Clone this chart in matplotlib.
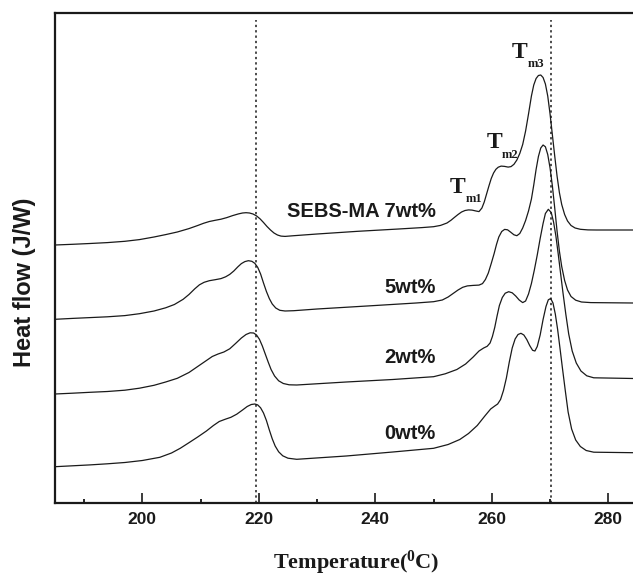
import matplotlib
matplotlib.use("Agg")
import matplotlib.pyplot as plt
from matplotlib.ticker import MultipleLocator

# ---------------- data (temperature in deg C; heat-flow read as pixel rows, converted below) ----------------
temp_7 = [185.0, 188.0, 191.0, 194.0, 197.0, 199.5, 202.0, 204.0, 206.0, 208.0, 209.5, 210.5,
          211.5, 212.5, 213.5, 214.5, 215.5, 216.5, 217.2, 217.8, 218.4, 219.0, 219.6, 220.2,
          220.8, 221.4, 222.0, 222.6, 223.2, 223.8, 224.5, 226.0, 230.0, 237.0, 244.0, 248.0,
          250.0, 251.2, 252.3, 253.0, 253.6, 254.2, 254.8, 255.4, 256.0, 256.6, 257.2, 257.8,
          258.3, 258.7, 259.1, 259.5, 259.9, 260.3, 260.7, 261.1, 261.6, 262.2, 262.8, 263.3,
          263.8, 264.3, 264.8, 265.3, 265.8, 266.3, 266.8, 267.2, 267.6, 268.0, 268.4, 268.8,
          269.2, 269.6, 270.0, 270.4, 270.8, 271.2, 271.6, 272.0, 272.5, 273.0, 273.6, 274.3,
          275.2, 276.5, 278.0, 284.3]
ypx_7 = [245.0, 244.3, 243.5, 242.6, 241.3, 239.6, 237.0, 234.6, 232.0, 228.6, 225.5, 223.3,
         221.5, 220.3, 219.2, 217.6, 215.6, 213.9, 213.0, 212.7, 213.0, 214.0, 215.9, 218.8,
         222.5, 226.5, 230.0, 233.0, 235.0, 236.1, 236.4, 235.7, 234.0, 231.3, 229.0, 227.6,
         226.7, 225.4, 223.0, 220.2, 217.3, 214.5, 212.0, 210.5, 209.9, 210.1, 210.9, 211.6,
         208.0, 202.0, 194.0, 186.0, 178.5, 173.0, 169.3, 167.2, 166.1, 166.4, 167.1, 166.6,
         164.3, 160.0, 153.5, 144.5, 131.0, 114.0, 96.0, 85.0, 78.5, 75.5, 75.0, 77.5,
         84.0, 96.0, 114.0, 135.0, 156.0, 176.0, 192.5, 204.5, 214.5, 221.0, 225.5, 228.0,
         229.3, 229.9, 230.0, 230.0]

temp_5 = [185.0, 188.0, 191.0, 194.0, 197.0, 199.5, 202.0, 204.0, 205.5, 207.0, 208.0, 209.0,
          209.8, 210.6, 211.5, 212.5, 213.5, 214.3, 215.0, 215.7, 216.4, 217.0, 217.6, 218.2,
          218.8, 219.3, 219.8, 220.3, 220.8, 221.3, 221.8, 222.3, 222.9, 223.6, 224.5, 226.0,
          230.0, 240.0, 247.0, 250.0, 251.5, 252.5, 253.4, 254.2, 255.0, 255.8, 256.8, 257.8,
          258.4, 258.9, 259.4, 259.9, 260.4, 260.8, 261.2, 261.7, 262.2, 262.7, 263.2, 263.8,
          264.3, 264.8, 265.3, 265.8, 266.3, 266.8, 267.2, 267.6, 268.0, 268.4, 268.8, 269.2,
          269.6, 270.0, 270.4, 270.8, 271.2, 271.6, 272.0, 272.5, 273.0, 273.6, 274.4, 275.4,
          277.0, 284.3]
ypx_5 = [319.3, 318.4, 317.6, 316.8, 315.6, 313.7, 311.0, 307.8, 304.5, 299.3, 294.5, 288.8,
         284.8, 282.3, 280.7, 279.7, 278.6, 276.8, 274.4, 271.0, 266.8, 263.6, 261.6, 260.7,
         261.3, 263.3, 267.3, 274.0, 283.0, 291.5, 298.6, 304.0, 308.0, 310.3, 311.0, 310.7,
         309.0, 305.5, 303.0, 301.7, 300.0, 297.0, 293.3, 290.0, 287.3, 285.9, 285.4, 285.1,
         283.6, 279.5, 273.0, 263.5, 253.5, 244.5, 237.0, 231.5, 229.4, 229.8, 232.0, 234.8,
         235.7, 233.5, 228.0, 220.5, 211.0, 199.0, 185.0, 169.5, 156.5, 148.0, 145.0, 146.8,
         154.5, 168.0, 186.0, 208.0, 231.0, 251.0, 266.5, 280.5, 290.0, 296.5, 300.2, 302.0,
         302.6, 303.0]

temp_2 = [185.0, 188.0, 191.0, 194.0, 197.0, 199.5, 202.0, 204.0, 206.0, 208.0, 209.5, 211.0,
          212.0, 213.0, 214.0, 215.0, 216.0, 217.0, 217.8, 218.5, 219.1, 219.6, 220.1, 220.6,
          221.1, 221.6, 222.1, 222.7, 223.4, 224.2, 225.2, 226.5, 235.0, 243.0, 250.0, 252.0,
          254.0, 255.5, 256.8, 257.8, 258.6, 259.2, 259.7, 260.1, 260.5, 260.9, 261.3, 261.8,
          262.3, 262.9, 263.5, 264.1, 264.7, 265.3, 265.8, 266.3, 266.8, 267.3, 267.8, 268.3,
          268.8, 269.2, 269.7, 270.2, 270.6, 271.0, 271.4, 271.8, 272.2, 272.7, 273.2, 273.8,
          274.5, 275.3, 276.3, 277.5, 284.3]
ypx_2 = [394.0, 393.2, 392.3, 391.5, 390.2, 388.2, 385.3, 382.0, 378.3, 372.5, 366.5, 360.5,
         356.5, 354.0, 352.0, 348.8, 343.5, 338.0, 334.5, 332.8, 333.0, 335.0, 339.3, 346.0,
         354.0, 362.0, 369.5, 376.0, 380.8, 383.5, 384.8, 385.0, 382.0, 379.5, 376.7, 373.8,
         369.5, 364.0, 357.0, 351.0, 348.0, 346.3, 343.0, 336.5, 327.5, 316.0, 305.5, 297.5,
         293.2, 291.7, 292.8, 296.0, 300.0, 302.6, 301.0, 294.0, 283.5, 270.0, 255.0, 238.5,
         223.5, 213.5, 209.3, 212.5, 222.0, 236.0, 254.0, 273.0, 292.0, 314.0, 334.0, 351.0,
         363.0, 371.0, 375.8, 377.8, 378.5]

temp_0 = [185.0, 188.0, 191.0, 194.0, 197.0, 200.0, 203.0, 205.0, 206.5, 208.0, 209.5, 211.0,
          212.2, 213.2, 214.2, 215.2, 216.2, 217.2, 218.0, 218.7, 219.3, 219.8, 220.3, 220.8,
          221.3, 221.8, 222.3, 222.8, 223.4, 224.1, 225.0, 226.5, 235.0, 243.0, 250.0, 252.5,
          254.5, 256.0, 257.5, 258.8, 259.8, 260.5, 261.0, 261.5, 262.0, 262.5, 263.0, 263.5,
          264.0, 264.5, 265.0, 265.5, 266.0, 266.5, 267.0, 267.4, 267.8, 268.3, 268.8, 269.3,
          269.7, 270.1, 270.5, 270.9, 271.3, 271.7, 272.1, 272.6, 273.1, 273.7, 274.4, 275.2,
          276.2, 277.5, 284.3]
ypx_0 = [466.7, 465.8, 464.9, 463.8, 462.5, 460.5, 457.3, 453.0, 448.3, 442.7, 437.0, 431.0,
         425.5, 421.5, 419.3, 417.3, 414.2, 410.0, 406.5, 404.5, 404.0, 404.9, 407.8, 413.0,
         420.5, 430.0, 438.8, 446.0, 451.8, 455.8, 458.2, 459.3, 456.0, 452.0, 448.3, 444.5,
         439.5, 433.5, 425.5, 416.0, 409.0, 406.0, 404.0, 399.5, 390.5, 378.0, 362.0, 348.0,
         339.0, 334.5, 333.3, 335.0, 339.5, 345.5, 350.3, 351.0, 346.5, 335.0, 319.5, 306.5,
         299.8, 298.5, 303.0, 314.0, 329.5, 348.0, 367.0, 390.0, 412.0, 429.0, 440.0, 446.5,
         450.5, 452.2, 452.7]

# heat-flow values measured upward from the x axis
BASE = 502.7
flow_7 = [BASE - v for v in ypx_7]
flow_5 = [BASE - v for v in ypx_5]
flow_2 = [BASE - v for v in ypx_2]
flow_0 = [BASE - v for v in ypx_0]

series_labels = ["SEBS-MA 7wt%", "5wt%", "2wt%", "0wt%"]
ref_temps = [219.5, 270.1]
x_ticks = [200, 220, 240, 260, 280]

# ---------------- figure ----------------
W, H = 633, 577
fig = plt.figure(figsize=(W / 100, H / 100), dpi=100)
ax = fig.add_axes([55 / W, (H - 502.7) / H, (W - 55) / W, 490 / H])
ax.set_xlim(185.0, 284.24)
ax.set_ylim(0, 490)

line_kw = dict(color="#1a1a1a", lw=0.9, solid_joinstyle="round")
for t, f in [(temp_7, flow_7), (temp_5, flow_5), (temp_2, flow_2), (temp_0, flow_0)]:
    ax.plot(t, f, **line_kw)

for xr in ref_temps:
    ax.vlines(xr, 0, BASE - 20, colors="#1a1a1a", linestyles=(0, (1.5, 2.0)), lw=1.1)

# axes styling
for side in ["left", "bottom", "top"]:
    ax.spines[side].set_linewidth(1.6)
    ax.spines[side].set_color("#1a1a1a")
ax.spines["right"].set_visible(False)
ax.set_xticks(x_ticks)
ax.xaxis.set_minor_locator(MultipleLocator(10))
ax.tick_params(axis="x", which="major", direction="in", length=7.5, width=1.2,
               pad=7, labelsize=12.5, colors="#1a1a1a")
ax.tick_params(axis="x", which="minor", direction="in", length=3.2, width=1.2)
ax.tick_params(axis="y", left=False, labelleft=False)
for lab in ax.get_xticklabels():
    lab.set_fontfamily("Liberation Sans")
    lab.set_fontweight("bold")


def px(x, y):
    return x / W, 1 - y / H


sans = dict(family="Liberation Sans", weight="bold", color="#1a1a1a")
serif = dict(family="Liberation Serif", weight="bold", color="#1a1a1a")

# series labels
for lab, yb in zip(series_labels, [217.5, 293.3, 362.8, 439.3]):
    fig.text(*px(435.5, yb), lab, ha="right", va="baseline", fontsize=14.5, **sans)

# melting peak labels
for (tx, ty), (sx, sy), sub in [((457.5, 193.3), (465.5, 201.7), "m1"),
                                ((495.0, 148.3), (501.7, 158.3), "m2"),
                                ((520.0, 58.3), (527.5, 67.0), "m3")]:
    fig.text(*px(tx, ty), "T", ha="center", va="baseline", fontsize=17, **serif)
    fig.text(*px(sx, sy), sub, ha="left", va="baseline", fontsize=9, **serif)

# axis titles
fig.text(*px(24, 282.5), "Heat flow (J/W)", rotation=90, ha="center", va="center",
         fontsize=17, **sans)
plt.rcParams["mathtext.fontset"] = "custom"
plt.rcParams["mathtext.rm"] = "Liberation Serif:bold"
plt.rcParams["mathtext.bf"] = "Liberation Serif:bold"
fig.text(*px(273, 569), r"Temperature($\mathbf{^{0}}$C)", ha="left", va="baseline",
         fontsize=16, **serif)

fig.savefig("out.png", dpi=100)
